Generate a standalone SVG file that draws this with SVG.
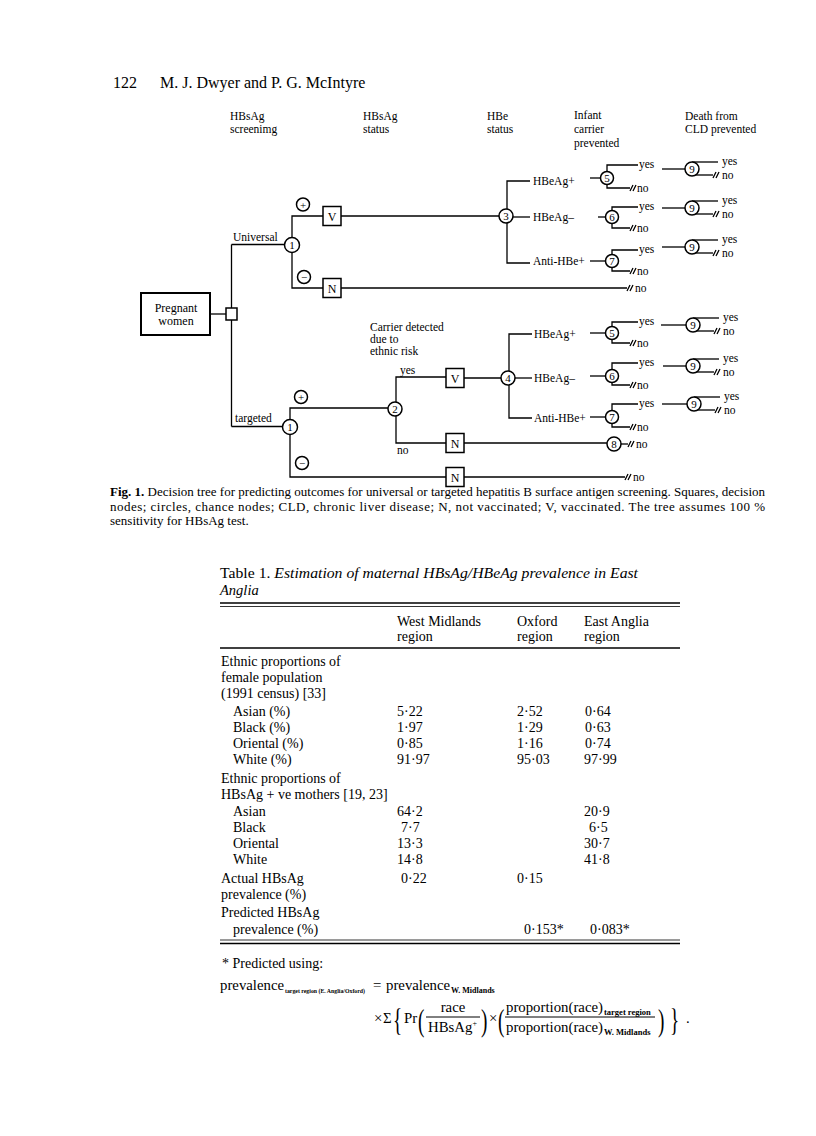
<svg xmlns="http://www.w3.org/2000/svg" xmlns:xlink="http://www.w3.org/1999/xlink" width="816" height="1136" viewBox="0 0 816 1136">
<style>
text{font-family:"Liberation Serif","Times New Roman",serif;fill:#000}
.lab{font-size:11.5px}
.num{font-size:11px;text-anchor:middle}
.pm{font-size:11px;text-anchor:middle}
.ln{fill:none;stroke:#000;stroke-width:1.3}
.cir{fill:#fff;stroke:#000;stroke-width:1.5}
.box{fill:#fff;stroke:#000;stroke-width:1.5}
.bl{font-size:12px;text-anchor:middle}
.tb{font-size:14px}
.cap{font-size:13px}
.fm{font-size:14.8px}
.sb{font-size:8px;font-weight:bold}
.big{font-size:32px}
.rule{stroke:#000}
</style>
<defs>
<g id="term"><path d="M0,3 L3,-3 M3,3 L6,-3" fill="none" stroke="#000" stroke-width="1.3"/></g>
</defs>
<rect width="816" height="1136" fill="#fff"/>

<g id="page-header">
<text x="113" y="88" style="font-size:16px">122</text>
<text x="160" y="88" style="font-size:16px">M. J. Dwyer and P. G. McIntyre</text>
</g>

<g id="column-headers" class="lab">
<text x="230" y="120">HBsAg</text><text x="230" y="133">screenimg</text>
<text x="363" y="120">HBsAg</text><text x="363" y="133">status</text>
<text x="487" y="120">HBe</text><text x="487" y="133">status</text>
<text x="574" y="119">Infant</text><text x="574" y="133">carrier</text><text x="574" y="147">prevented</text>
<text x="685" y="120">Death from</text><text x="685" y="133">CLD prevented</text>
</g>

<g id="connectors" class="ln">
<path d="M210,314 H226"/>
<path d="M231.5,244.5 V426.5"/>
<path d="M231.5,244.5 H285"/>
<path d="M292,237.5 V216 H323"/>
<path d="M341,216 H499"/>
<path d="M292,252.5 V288 H323"/>
<path d="M341,288 H627"/>
<path d="M507,209 V181 H530"/>
<path d="M513,217 H530"/>
<path d="M507,223 V263 H530"/>
<path d="M590,178 H600.5"/>
<path d="M598,217 H605.5"/>
<path d="M590,261 H605.5"/>
<path d="M607,171.5 V165 H638"/>
<path d="M607,184.5 V188 H630"/>
<path d="M612,210.5 V207 H638"/>
<path d="M612,223.5 V228 H630"/>
<path d="M612,254.5 V250 H638"/>
<path d="M612,267.5 V271 H630"/>
<path d="M662,169 H685"/>
<path d="M662,208 H685"/>
<path d="M662,247 H685"/>
<path d="M692,162 H718"/><path d="M692,175 H713"/>
<path d="M692,201 H718"/><path d="M692,214 H713"/>
<path d="M692,240 H718"/><path d="M692,253 H713"/>
<path d="M231.5,426.5 H283"/>
<path d="M290,420 V408 H388"/>
<path d="M396,402 V377 H446"/>
<path d="M464,378 H501"/>
<path d="M396,416 V443 H446"/>
<path d="M464,443 H607"/>
<path d="M621,444 H628"/>
<path d="M290,434 V477 H446"/>
<path d="M464,477 H625"/>
<path d="M509,371 V334 H532"/>
<path d="M515,378 H532"/>
<path d="M509,385 V418 H532"/>
<path d="M590,333 H605.5"/>
<path d="M590,376 H605.5"/>
<path d="M590,417 H605.5"/>
<path d="M612,326.5 V322 H638"/>
<path d="M612,339.5 V343 H630"/>
<path d="M612,369.5 V363 H638"/>
<path d="M612,382.5 V385 H630"/>
<path d="M612,410.5 V404 H638"/>
<path d="M612,423.5 V427 H630"/>
<path d="M661,325 H686"/>
<path d="M663,366 H686"/>
<path d="M662,404 H687"/>
<path d="M693,318 H719"/><path d="M693,331 H714"/>
<path d="M693,359 H719"/><path d="M693,372 H714"/>
<path d="M694,397 H720"/><path d="M694,410 H715"/>
</g>

<g id="terminal-marks">
<use xlink:href="#term" x="627" y="288"/>
<use xlink:href="#term" x="630" y="188"/>
<use xlink:href="#term" x="630" y="228"/>
<use xlink:href="#term" x="630" y="271"/>
<use xlink:href="#term" x="713" y="175"/>
<use xlink:href="#term" x="713" y="214"/>
<use xlink:href="#term" x="713" y="253"/>
<use xlink:href="#term" x="628" y="444"/>
<use xlink:href="#term" x="625" y="477"/>
<use xlink:href="#term" x="630" y="343"/>
<use xlink:href="#term" x="630" y="385"/>
<use xlink:href="#term" x="630" y="427"/>
<use xlink:href="#term" x="714" y="331"/>
<use xlink:href="#term" x="714" y="372"/>
<use xlink:href="#term" x="715" y="410"/>
</g>

<g id="pregnant-women"><rect class="box" x="141" y="293" width="69" height="42" style="stroke-width:2"/><text class="bl" x="176" y="312">Pregnant</text><text class="bl" x="176" y="325">women</text></g>
<g id="decision"><rect class="box" x="226" y="308" width="11" height="12"/></g>

<g id="universal-chance"><text class="lab" x="233" y="241">Universal</text><circle class="cir" cx="292" cy="245" r="7.5"/><text class="num" x="292" y="249">1</text></g>
<g id="universal-pos"><circle class="cir" cx="303" cy="204.5" r="6.5"/><text class="pm" x="303" y="208.5">+</text></g>
<g id="universal-neg"><circle class="cir" cx="304" cy="277" r="6.5"/><text class="pm" x="304" y="281">−</text></g>
<g id="universal-V"><rect class="box" x="323" y="206.5" width="18" height="19"/><text class="bl" x="332" y="220.5">V</text></g>
<g id="universal-N"><rect class="box" x="323" y="278.5" width="18" height="19"/><text class="bl" x="332" y="292.5">N</text></g>
<g id="universal-no"><text class="lab" x="635" y="292">no</text></g>

<g id="hbe-3"><circle class="cir" cx="506" cy="216" r="7"/><text class="num" x="506" y="220">3</text>
<text class="lab" x="533" y="185">HBeAg+</text><text class="lab" x="533" y="221">HBeAg–</text><text class="lab" x="533" y="265">Anti-HBe+</text></g>

<g id="u-inf-5"><circle class="cir" cx="607" cy="178" r="6.5"/><text class="num" x="607" y="182">5</text><text class="lab" x="639" y="168">yes</text><text class="lab" x="637" y="192">no</text></g>
<g id="u-inf-6"><circle class="cir" cx="612" cy="217" r="6.5"/><text class="num" x="612" y="221">6</text><text class="lab" x="639" y="210">yes</text><text class="lab" x="637" y="232">no</text></g>
<g id="u-inf-7"><circle class="cir" cx="612" cy="261" r="6.5"/><text class="num" x="612" y="265">7</text><text class="lab" x="639" y="253">yes</text><text class="lab" x="637" y="275">no</text></g>
<g id="u-cld-a"><circle class="cir" cx="692" cy="169" r="7"/><text class="num" x="692" y="173">9</text><text class="lab" x="722" y="165">yes</text><text class="lab" x="722" y="179">no</text></g>
<g id="u-cld-b"><circle class="cir" cx="692" cy="208" r="7"/><text class="num" x="692" y="212">9</text><text class="lab" x="722" y="204">yes</text><text class="lab" x="722" y="218">no</text></g>
<g id="u-cld-c"><circle class="cir" cx="692" cy="247" r="7"/><text class="num" x="692" y="251">9</text><text class="lab" x="722" y="243">yes</text><text class="lab" x="722" y="257">no</text></g>

<g id="targeted-chance"><text class="lab" x="235" y="422">targeted</text><circle class="cir" cx="290" cy="427" r="7.5"/><text class="num" x="290" y="431">1</text></g>
<g id="targeted-pos"><circle class="cir" cx="301" cy="397" r="6.5"/><text class="pm" x="301" y="401">+</text></g>
<g id="targeted-neg"><circle class="cir" cx="302" cy="463" r="6.5"/><text class="pm" x="302" y="467">−</text></g>
<g id="ethnic-2"><text class="lab" x="370" y="331">Carrier detected</text><text class="lab" x="370" y="343">due to</text><text class="lab" x="370" y="355">ethnic risk</text>
<circle class="cir" cx="395" cy="409" r="7"/><text class="num" x="395" y="413">2</text><text class="lab" x="400" y="374">yes</text><text class="lab" x="397" y="454">no</text></g>
<g id="targeted-V"><rect class="box" x="446" y="368.5" width="18" height="19"/><text class="bl" x="455" y="382.5">V</text></g>
<g id="targeted-N1"><rect class="box" x="446" y="433.5" width="18" height="19"/><text class="bl" x="455" y="447.5">N</text></g>
<g id="targeted-N2"><rect class="box" x="446" y="467.5" width="18" height="19"/><text class="bl" x="455" y="481.5">N</text></g>
<g id="node-8"><circle class="cir" cx="614" cy="444" r="7"/><text class="num" x="614" y="448">8</text><text class="lab" x="636" y="448">no</text></g>
<g id="targeted-no"><text class="lab" x="633" y="481">no</text></g>

<g id="hbe-4"><circle class="cir" cx="508" cy="378" r="7"/><text class="num" x="508" y="382">4</text>
<text class="lab" x="534" y="338">HBeAg+</text><text class="lab" x="534" y="382">HBeAg–</text><text class="lab" x="534" y="422">Anti-HBe+</text></g>

<g id="t-inf-5"><circle class="cir" cx="612" cy="333" r="6.5"/><text class="num" x="612" y="337">5</text><text class="lab" x="639" y="325">yes</text><text class="lab" x="637" y="347">no</text></g>
<g id="t-inf-6"><circle class="cir" cx="612" cy="376" r="6.5"/><text class="num" x="612" y="380">6</text><text class="lab" x="639" y="366">yes</text><text class="lab" x="637" y="389">no</text></g>
<g id="t-inf-7"><circle class="cir" cx="612" cy="417" r="6.5"/><text class="num" x="612" y="421">7</text><text class="lab" x="639" y="407">yes</text><text class="lab" x="637" y="431">no</text></g>
<g id="t-cld-a"><circle class="cir" cx="693" cy="325" r="7"/><text class="num" x="693" y="329">9</text><text class="lab" x="723" y="321">yes</text><text class="lab" x="723" y="335">no</text></g>
<g id="t-cld-b"><circle class="cir" cx="693" cy="366" r="7"/><text class="num" x="693" y="370">9</text><text class="lab" x="723" y="362">yes</text><text class="lab" x="723" y="376">no</text></g>
<g id="t-cld-c"><circle class="cir" cx="694" cy="404" r="7"/><text class="num" x="694" y="408">9</text><text class="lab" x="724" y="400">yes</text><text class="lab" x="724" y="414">no</text></g>

<g id="caption" class="cap">
<text x="110" y="496" textLength="655" lengthAdjust="spacing"><tspan font-weight="bold">Fig. 1.</tspan> Decision tree for predicting outcomes for universal or targeted hepatitis B surface antigen screening. Squares, decision</text>
<text x="110" y="510.5" textLength="655" lengthAdjust="spacing">nodes; circles, chance nodes; CLD, chronic liver disease; N, not vaccinated; V, vaccinated. The tree assumes 100 %</text>
<text x="110" y="525">sensitivity for HBsAg test.</text>
</g>

<g id="table" class="tb">
<text x="220" y="578" textLength="418" lengthAdjust="spacingAndGlyphs" style="font-size:14.5px">Table 1. <tspan font-style="italic">Estimation of maternal HBsAg/HBeAg prevalence in East</tspan></text>
<text x="220" y="595" font-style="italic" style="font-size:14.5px">Anglia</text>
<line class="rule" x1="220" y1="603" x2="680" y2="603" stroke-width="1.5"/>
<line class="rule" x1="220" y1="606.5" x2="680" y2="606.5" stroke-width="0.8"/>
<text x="397" y="626">West Midlands</text><text x="397" y="641">region</text>
<text x="517" y="626">Oxford</text><text x="517" y="641">region</text>
<text x="584" y="626">East Anglia</text><text x="584" y="641">region</text>
<line class="rule" x1="220" y1="648" x2="680" y2="648" stroke-width="1.3"/>
<text x="221" y="666">Ethnic proportions of</text>
<text x="221" y="682">female population</text>
<text x="221" y="698">(1991 census) [33]</text>
<text x="233" y="716">Asian (%)</text><text x="397" y="716">5·22</text><text x="517" y="716">2·52</text><text x="585" y="716">0·64</text>
<text x="233" y="732">Black (%)</text><text x="397" y="732">1·97</text><text x="517" y="732">1·29</text><text x="585" y="732">0·63</text>
<text x="233" y="748">Oriental (%)</text><text x="397" y="748">0·85</text><text x="517" y="748">1·16</text><text x="585" y="748">0·74</text>
<text x="233" y="764">White (%)</text><text x="397" y="764">91·97</text><text x="517" y="764">95·03</text><text x="584" y="764">97·99</text>
<text x="221" y="783">Ethnic proportions of</text>
<text x="221" y="799">HBsAg + ve mothers [19, 23]</text>
<text x="233" y="816">Asian</text><text x="397" y="816">64·2</text><text x="584" y="816">20·9</text>
<text x="233" y="832">Black</text><text x="401" y="832">7·7</text><text x="589" y="832">6·5</text>
<text x="233" y="848">Oriental</text><text x="397" y="848">13·3</text><text x="584" y="848">30·7</text>
<text x="233" y="864">White</text><text x="397" y="864">14·8</text><text x="584" y="864">41·8</text>
<text x="221" y="883">Actual HBsAg</text><text x="401" y="883">0·22</text><text x="517" y="883">0·15</text>
<text x="221" y="899">prevalence (%)</text>
<text x="221" y="917">Predicted HBsAg</text>
<text x="233" y="934">prevalence (%)</text><text x="524" y="934">0·153*</text><text x="590" y="934">0·083*</text>
<line class="rule" x1="220" y1="940" x2="680" y2="940" stroke-width="0.8"/>
<line class="rule" x1="220" y1="943.5" x2="680" y2="943.5" stroke-width="1.5"/>
</g>

<g id="footnote">
<text class="tb" x="222" y="968">* Predicted using:</text>
<text class="fm" x="220" y="990">prevalence</text>
<text class="sb" x="285" y="993" textLength="80" lengthAdjust="spacingAndGlyphs" style="font-size:6.5px">target region (E. Anglia/Oxford)</text>
<text class="fm" x="373" y="990">=</text>
<text class="fm" x="386" y="990">prevalence</text>
<text class="sb" x="451" y="993">W. Midlands</text>
<text class="fm" x="374" y="1023">×</text>
<text class="fm" x="383" y="1023">Σ</text>
<text class="big" transform="translate(393,1031) scale(0.6,1)">{</text>
<text class="fm" x="404" y="1023">Pr</text>
<text class="big" transform="translate(418,1031) scale(0.6,1)">(</text>
<text class="fm" x="453" y="1012" text-anchor="middle">race</text>
<line x1="426" y1="1017" x2="480" y2="1017" stroke="#000" stroke-width="1"/>
<text class="fm" x="428" y="1032">HBsAg<tspan font-size="8" dy="-6">+</tspan></text>
<text class="big" transform="translate(481,1031) scale(0.6,1)">)</text>
<text class="fm" x="489" y="1023">×</text>
<text class="big" transform="translate(498,1031) scale(0.6,1)">(</text>
<text class="fm" x="506" y="1012">proportion(race)</text>
<text class="sb" x="604" y="1015" style="font-size:8.5px">target region</text>
<line x1="505" y1="1017" x2="655" y2="1017" stroke="#000" stroke-width="1"/>
<text class="fm" x="506" y="1032">proportion(race)</text>
<text class="sb" x="604" y="1035" style="font-size:8.5px">W. Midlands</text>
<text class="big" transform="translate(658,1031) scale(0.6,1)">)</text>
<text class="big" transform="translate(670,1031) scale(0.6,1)">}</text>
<text class="fm" x="686" y="1023">.</text>
</g>
</svg>
